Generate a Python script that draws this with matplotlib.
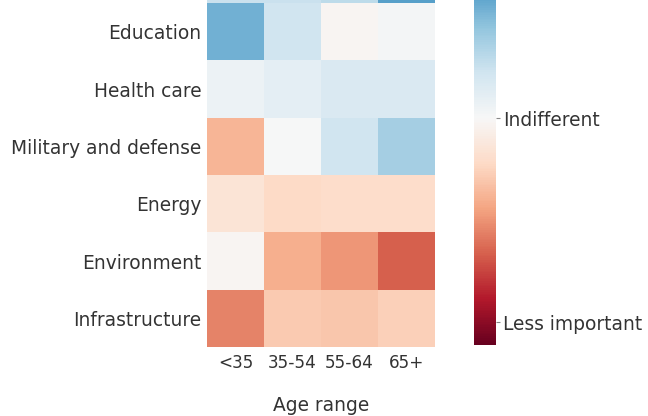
import numpy as np
import matplotlib
matplotlib.use("Agg")
import matplotlib.pyplot as plt

# categories (top row is mostly cropped off in the reference)
categories = ["", "Education", "Health care", "Military and defense",
              "Energy", "Environment", "Infrastructure"]
age_ranges = ["<35", "35-54", "55-64", "65+"]

# importance score per category and age range (-1 less important .. 1 more important)
scores = [
    [0.22, 0.22, 0.26, 0.55],
    [0.48, 0.20, -0.02, 0.02],
    [0.06, 0.10, 0.15, 0.15],
    [-0.34, 0.00, 0.20, 0.34],
    [-0.14, -0.20, -0.18, -0.18],
    [-0.02, -0.36, -0.44, -0.60],
    [-0.50, -0.26, -0.28, -0.24],
]

cbar_ticks = [-0.9, 0]
cbar_labels = ["Less important", "Indifferent"]

text_color = "#333333"
fs = 13.4
plt.rcParams["font.family"] = "DejaVu Sans"

fig = plt.figure(figsize=(6.48, 4.16), dpi=100)
W, H = 648, 416

# heatmap axes: left 207px, right 435px, bottom at 347px, extends above figure top
row_h = 57.3
n_rows = len(categories)
top_px = 347 - n_rows * row_h
ax = fig.add_axes([207 / W, (H - 347) / H, 228 / W, (347 - top_px) / H])

data = np.array(scores)
mesh = ax.pcolormesh(data, cmap="RdBu", vmin=-1, vmax=1)
ax.set_xlim(0, len(age_ranges))
ax.set_ylim(n_rows, 0)
ax.set_xticks(np.arange(len(age_ranges)) + 0.5)
ax.set_xticklabels(age_ranges, fontsize=12.2, color=text_color)
ax.set_yticks(np.arange(n_rows) + 0.5)
ax.set_yticklabels(categories, fontsize=fs, color=text_color)
ax.tick_params(axis="y", length=0, pad=4)
ax.tick_params(axis="x", length=0, pad=5)
ax.set_xlabel("Age range", fontsize=fs, color=text_color, labelpad=17)
for s in ax.spines.values():
    s.set_visible(False)

# colorbar: x 474-496px, bottom at 345px, extends above figure top
cb_bottom = 345
cb_top = -109
cax = fig.add_axes([474 / W, (H - cb_bottom) / H, 22 / W, (cb_bottom - cb_top) / H])
cbar = fig.colorbar(mesh, cax=cax)
cbar.outline.set_linewidth(0)
cbar.set_ticks(cbar_ticks)
cbar.set_ticklabels(cbar_labels)
cbar.ax.tick_params(labelsize=fs, labelcolor=text_color, length=3, width=0.8,
                    color="#888888", pad=2)

fig.savefig("out.png", dpi=100)
